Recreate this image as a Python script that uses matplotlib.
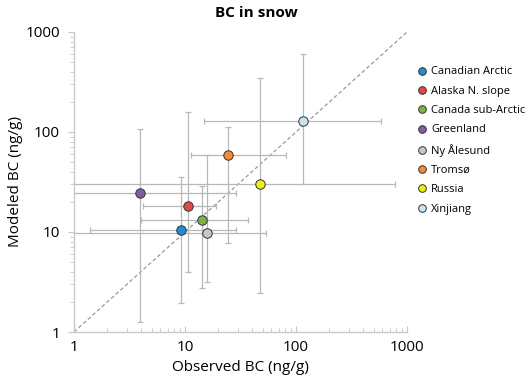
import matplotlib
matplotlib.use("Agg")
import matplotlib.pyplot as plt
import numpy as np
from matplotlib.ticker import LogLocator, NullFormatter

plt.rcParams['font.family'] = ['Open Sans', 'DejaVu Sans']

sites = ["Canadian Arctic", "Alaska N. slope", "Canada sub-Arctic", "Greenland",
         "Ny Ålesund", "Tromsø", "Russia", "Xinjiang"]
colors = ["#1f8fcf", "#e04a4a", "#7db245", "#7f5fa0", "#c8c8c8", "#f28a3a", "#f3ee12", "#c6e2f3"]
obs = [9.15, 10.6, 14.2, 3.9, 15.8, 24.5, 47.0, 116.0]
obs_lo = [1.4, 4.2, 4.0, 0.9, 0.9, 11.3, 0.9, 14.9]
obs_hi = [29.0, 18.9, 36.7, 28.8, 53.3, 80.7, 780.0, 583.0]
mod = [10.5, 18.2, 13.3, 24.4, 9.8, 59.3, 30.4, 130.0]
mod_lo = [1.95, 3.95, 2.74, 1.27, 3.18, 7.8, 2.44, 30.0]
mod_hi = [35.5, 157.0, 28.8, 106.0, 58.9, 112.0, 344.0, 598.0]

fig = plt.figure(figsize=(5.28, 3.76), dpi=100)
ax = fig.add_axes([0.140, 0.117, 0.631, 0.798])

ax.plot([1, 1000], [1, 1000], ls=(0, (3, 2)), color="#999999", lw=0.9, zorder=1)

for i in range(len(sites)):
    xerr = [[obs[i] - obs_lo[i]], [obs_hi[i] - obs[i]]]
    yerr = [[mod[i] - mod_lo[i]], [mod_hi[i] - mod[i]]]
    ax.errorbar([obs[i]], [mod[i]], xerr=xerr, yerr=yerr, fmt='none',
                ecolor="#b8b8b8", elinewidth=0.9, capsize=2.2, capthick=0.9, zorder=2)
for i in range(len(sites)):
    ax.plot([obs[i]], [mod[i]], 'o', color=colors[i], mec="#333333", mew=0.7,
            ms=6.8, label=sites[i], zorder=3, clip_on=False)

ax.set_xscale('log')
ax.set_yscale('log')
ax.set_xlim(1, 1000)
ax.set_ylim(1, 1000)
ax.set_xticks([1, 10, 100, 1000])
ax.set_xticklabels(["1", "10", "100", "1000"])
ax.set_yticks([1, 10, 100, 1000])
ax.set_yticklabels(["1", "10", "100", "1000"])
ax.xaxis.set_minor_locator(LogLocator(base=10, subs=np.arange(2, 10)))
ax.yaxis.set_minor_locator(LogLocator(base=10, subs=np.arange(2, 10)))
ax.xaxis.set_minor_formatter(NullFormatter())
ax.yaxis.set_minor_formatter(NullFormatter())

for s in ['top', 'right']:
    ax.spines[s].set_visible(False)
for s in ['left', 'bottom']:
    ax.spines[s].set_color("#c8c8c8")
    ax.spines[s].set_linewidth(1.0)
ax.tick_params(axis='x', which='both', direction='in', color="#c8c8c8", labelsize=11, pad=6)
ax.tick_params(axis='y', which='both', direction='out', color="#c8c8c8", labelsize=11, pad=6)
ax.tick_params(which='major', length=4)
ax.tick_params(which='minor', length=3)

ax.set_xlabel("Observed BC (ng/g)", fontsize=11, labelpad=3)
ax.set_ylabel("Modeled BC (ng/g)", fontsize=11, labelpad=2)
fig.text(0.485, 0.965, "BC in snow", fontsize=11, fontweight='bold', ha='center', va='center')

leg = ax.legend(loc='upper left', bbox_to_anchor=(1.005, 0.90), frameon=False,
                fontsize=8, handletextpad=0.0, labelspacing=0.75, handlelength=1.6,
                borderaxespad=0)
for h in leg.legend_handles:
    h.set_markersize(5.5)

fig.savefig("out.png", dpi=100)
